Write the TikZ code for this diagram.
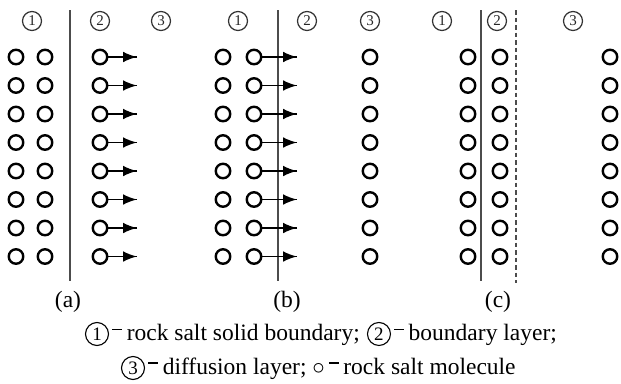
\documentclass[tikz,border=0pt]{standalone}
\usepackage{fontspec}
\setmainfont{Liberation Serif}
\usetikzlibrary{calc}
\usetikzlibrary{arrows,decorations.markings}

\tikzset{
	mol/.style={circle, draw, line width=2.4pt, minimum size=14.5pt, inner sep=0pt},
	flow/.style={line width=1.5pt, decoration={markings,mark=at position 1 with {\arrow[scale=1.9,>=latex]{>}}},postaction={decorate}},
	wall/.style={draw=black!70, line width=1.4pt},
	hdr/.style={circle, draw=black!80, line width=1.2pt, minimum size=19pt, inner sep=0pt, text=black!85, font=\fontsize{15}{15}\selectfont},
	legnum/.style={circle, draw, line width=1.1pt, minimum size=23pt, inner sep=0pt, font=\fontsize{19}{19}\selectfont},
	legtext/.style={inner sep=0pt, font=\fontsize{23.5}{25}\selectfont},
}
\newcommand{\dashmark}{\rule[0.44em]{0.42em}{0.06em}\hspace{0.2em}}

\begin{document}
\begin{tikzpicture}[x=1pt,y=-1pt]
			\useasboundingbox (0,0) rectangle (621,383);

			% layer numbers on top
			\node[hdr] (ha1) at (32,21) {1};
			\node[hdr] (ha2) at (100,21) {2};
			\node[hdr] (ha3) at (161,21) {3};
			\node[hdr] (hb1) at (238,21) {1};
			\node[hdr] (hb2) at (307,21) {2};
			\node[hdr] (hb3) at (370,21) {3};
			\node[hdr] (hc1) at (442,21) {1};
			\node[hdr] (hc2) at (497,21) {2};
			\node[hdr] (hc3) at (573,21) {3};

			% boundaries
			\draw[wall] (70,10) -- (70,281);
			\draw[wall] (278,10) -- (278,281);
			\draw[wall] (481,10) -- (481,281);
			\draw[wall, dash pattern=on 4.5pt off 3pt] (516,10) -- (516,283);

			% molecules, one row at a time
			\foreach \r in {0,...,7}{
				\pgfmathsetmacro{\yy}{57+28.5*\r}
				% (a)
				\node[mol] (a1-\r) at (16,\yy) {};
				\node[mol] (a2-\r) at (45,\yy) {};
				\node[mol] (a3-\r) at (100,\yy) {};
				\coordinate (ta-\r) at (137,\yy);
				\draw[flow] (a3-\r.east) -- (ta-\r);
				% (b)
				\node[mol] (b1-\r) at (223,\yy) {};
				\node[mol] (b2-\r) at (254,\yy) {};
				\node[mol] (b3-\r) at (370,\yy) {};
				\coordinate (tb-\r) at (297,\yy);
				\draw[flow] (b2-\r.east) -- (tb-\r);
				% (c)
				\node[mol] (c1-\r) at (468,\yy) {};
				\node[mol] (c2-\r) at (500,\yy) {};
				\node[mol] (c3-\r) at (610,\yy) {};
			}

			% panel labels
			\node[legtext] (pa) at (68,302) {(a)};
			\node[legtext] (pb) at (287,302) {(b)};
			\node[legtext] (pc) at (498,302) {(c)};

			% legend
			\node[legnum] (L1) at (97,334) {1};
			\node[legtext, anchor=base west] (T1) at ($(L1.base)+(15,0)$) {\dashmark rock salt solid boundary;};
			\node[legnum, anchor=base] (L2) at ($(T1.base east)+(19,0)$) {2};
			\node[legtext, anchor=base west] (T2) at ($(L2.base)+(15,0)$) {\dashmark boundary layer;};
			\node[legnum] (L3) at (133,368) {3};
			\node[legtext, anchor=base west] (T3) at ($(L3.base)+(15,0)$) {\dashmark diffusion layer; $\circ$\,\dashmark rock salt molecule};

		\end{tikzpicture}
\end{document}
